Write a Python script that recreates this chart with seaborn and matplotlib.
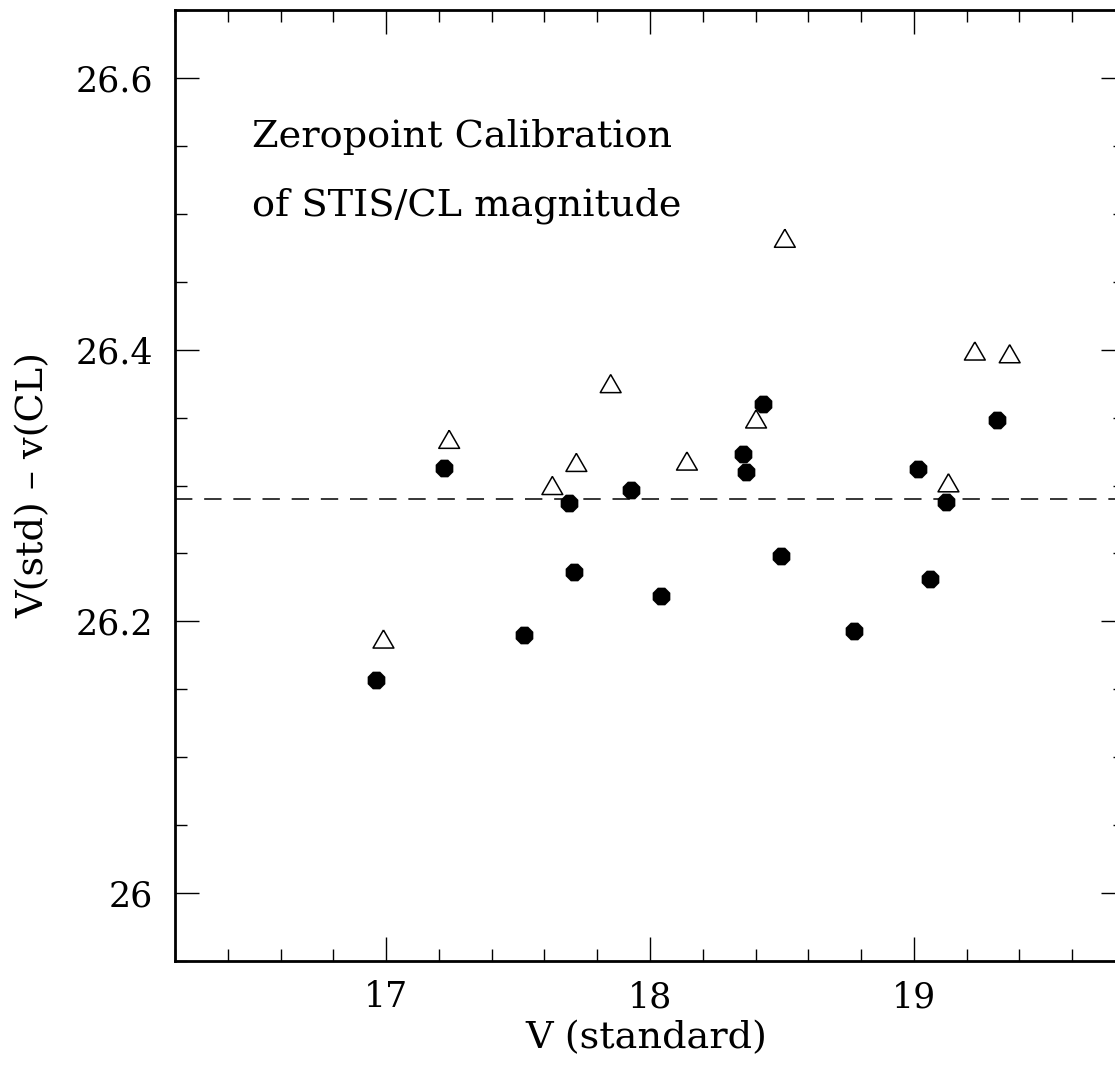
import numpy as np
import pandas as pd
import matplotlib
matplotlib.use("Agg")
import matplotlib.pyplot as plt
from matplotlib.ticker import MultipleLocator, FuncFormatter
import seaborn as sns

# ---- data ----
filled_x = [16.961, 17.221, 17.522, 17.692, 17.712, 17.927, 18.043, 18.354,
            18.364, 18.430, 18.495, 18.773, 19.015, 19.062, 19.123, 19.314]
filled_y = [26.157, 26.313, 26.190, 26.287, 26.236, 26.297, 26.219, 26.323,
            26.310, 26.360, 26.248, 26.193, 26.312, 26.231, 26.288, 26.348]
open_x = [16.990, 17.239, 17.630, 17.721, 17.851, 18.140, 18.402, 18.511,
          19.131, 19.231, 19.363]
open_y = [26.187, 26.334, 26.300, 26.317, 26.375, 26.318, 26.349, 26.482,
          26.302, 26.399, 26.397]
zeropoint = 26.29
x_label = "V (standard)"
y_label = "V(std) – v(CL)"
note_lines = ["Zeropoint Calibration", "of STIS/CL magnitude"]

sns.set_style("ticks")
plt.rcParams["font.family"] = ["DejaVu Serif"]
plt.rcParams["text.color"] = "black"
plt.rcParams["axes.labelcolor"] = "black"
plt.rcParams["lines.scale_dashes"] = False

df_filled = pd.DataFrame({"x": filled_x, "y": filled_y})
df_open = pd.DataFrame({"x": open_x, "y": open_y})

fig = plt.figure(figsize=(11.15, 10.65), dpi=100)
ax = fig.add_axes([175 / 1115, (1065 - 961) / 1065, 950 / 1115, 951 / 1065])

sns.scatterplot(data=df_filled, x="x", y="y", ax=ax, marker="8", s=190,
                color="black", edgecolor="black", linewidth=0, zorder=3)
tri = [(0, 0.866), (-1, -0.866), (1, -0.866), (0, 0.866)]
sns.scatterplot(data=df_open, x="x", y="y", ax=ax, marker=tri, s=15 ** 2,
                facecolor="none", edgecolor="black", linewidth=1.1, zorder=3)

ax.axhline(zeropoint, color="black", lw=1.1, linestyle=(0, (12.5, 8.5)), zorder=2)

ax.set_xlim(16.2, 19.8)
ax.set_ylim(25.95, 26.65)
ax.xaxis.set_major_locator(MultipleLocator(1))
ax.xaxis.set_minor_locator(MultipleLocator(0.2))
ax.yaxis.set_major_locator(MultipleLocator(0.2))
ax.yaxis.set_minor_locator(MultipleLocator(0.05))
ax.yaxis.set_major_formatter(FuncFormatter(lambda v, p: "%g" % round(v, 3)))
ax.xaxis.set_major_formatter(FuncFormatter(lambda v, p: "%g" % round(v, 3)))

ax.tick_params(which="both", direction="in", top=True, right=True,
               color="black", width=1.0, labelsize=25, labelcolor="black")
ax.tick_params(which="major", length=17)
ax.tick_params(which="minor", length=8.6)
ax.tick_params(axis="x", which="major", pad=14)
ax.tick_params(axis="y", which="major", pad=16)

for sp in ax.spines.values():
    sp.set_visible(True)
    sp.set_linewidth(2.0)
    sp.set_color("black")

ax.set_xlabel(x_label, fontsize=27.5, color="black")
ax.set_ylabel(y_label, fontsize=27.5, color="black")
ax.xaxis.set_label_coords((646 - 175) / 950, (961 - 1020) / 951)
ax.yaxis.set_label_coords((52 - 175) / 950, 0.5)

ax.text(16.49, 26.549, note_lines[0], fontsize=27.5, ha="left", va="baseline",
        color="black")
ax.text(16.49, 26.499, note_lines[1], fontsize=27.5, ha="left", va="baseline",
        color="black")

fig.savefig("out.png", dpi=100)
